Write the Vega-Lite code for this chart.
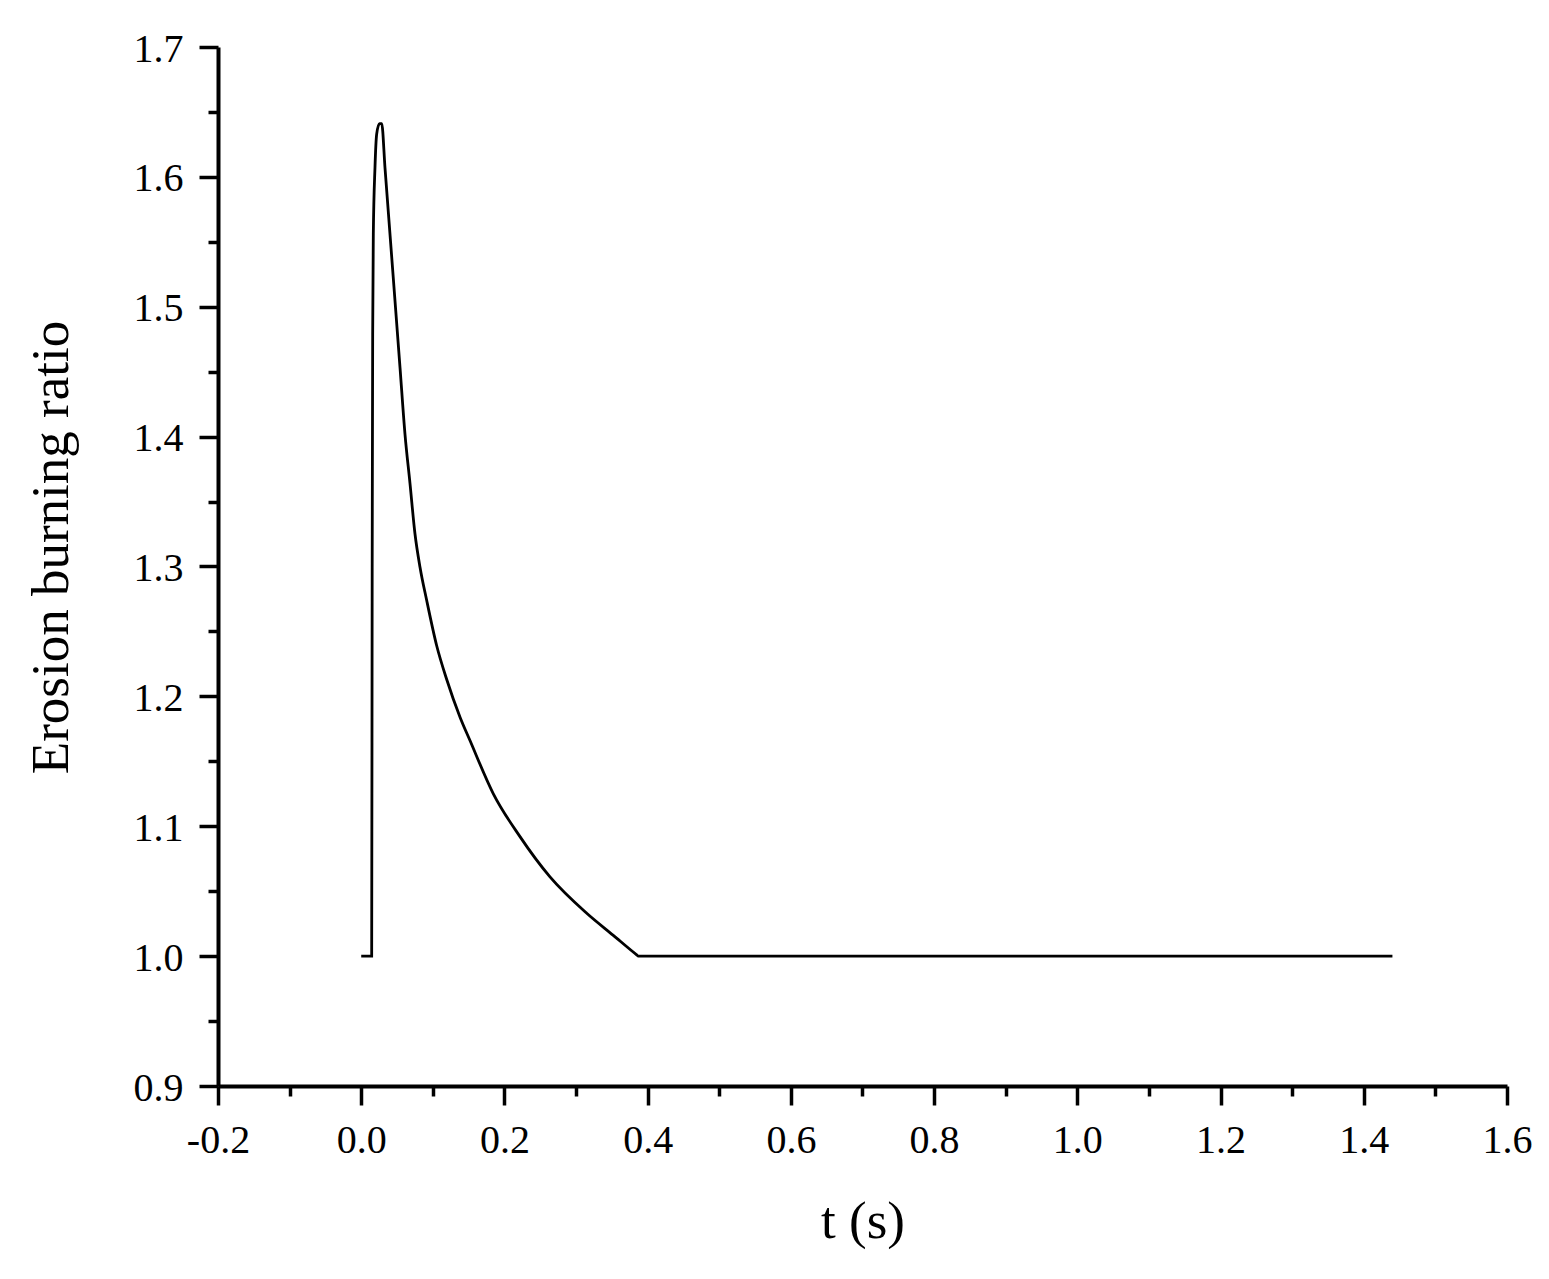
{
  "$schema": "https://vega.github.io/schema/vega-lite/v6.json",
  "width": 1289,
  "height": 1039,
  "autosize": {"type": "none"},
  "padding": {"left": 218, "top": 47, "right": 42, "bottom": 193},
  "background": "white",
  "config": {"view": {"stroke": null}},
  "data": {
    "values": [
      {"t": 0.0, "r": 1.0},
      {"t": 0.0146, "r": 1.0},
      {"t": 0.0153, "r": 1.3},
      {"t": 0.016, "r": 1.479},
      {"t": 0.0169, "r": 1.556},
      {"t": 0.0192, "r": 1.607},
      {"t": 0.0216, "r": 1.633},
      {"t": 0.0255, "r": 1.641},
      {"t": 0.0286, "r": 1.641},
      {"t": 0.0332, "r": 1.607},
      {"t": 0.0542, "r": 1.453},
      {"t": 0.0611, "r": 1.402},
      {"t": 0.0681, "r": 1.364},
      {"t": 0.0751, "r": 1.325},
      {"t": 0.0821, "r": 1.2995},
      {"t": 0.0914, "r": 1.274},
      {"t": 0.1054, "r": 1.239},
      {"t": 0.1194, "r": 1.213},
      {"t": 0.138, "r": 1.184},
      {"t": 0.1519, "r": 1.166},
      {"t": 0.1845, "r": 1.125},
      {"t": 0.2217, "r": 1.092},
      {"t": 0.2636, "r": 1.061},
      {"t": 0.3149, "r": 1.033},
      {"t": 0.352, "r": 1.016},
      {"t": 0.3847, "r": 1.001},
      {"t": 0.387, "r": 1.0},
      {"t": 1.44, "r": 1.0}
    ]
  },
  "mark": {"type": "line", "color": "black", "strokeWidth": 2.8, "interpolate": "monotone"},
  "encoding": {
    "x": {
      "field": "t",
      "type": "quantitative",
      "scale": {"domain": [-0.2, 1.6], "nice": false, "zero": false},
      "axis": {
        "title": "t (s)",
        "values": [-0.2, -0.1, 0.0, 0.1, 0.2, 0.3, 0.4, 0.5, 0.6, 0.7, 0.8, 0.9, 1.0, 1.1, 1.2, 1.3, 1.4, 1.5, 1.6],
        "labelExpr": "abs(round(datum.value*10)) % 2 === 1 ? '' : (datum.value < -0.001 ? '-' : '') + format(abs(datum.value), '.1f')",
        "labelOverlap": false,
        "labelFont": "Liberation Serif",
        "labelFontSize": 40,
        "labelColor": "black",
        "labelBaseline": "alphabetic",
        "labelPadding": 47,
        "labelFlush": false,
        "tickSize": {"condition": {"test": "abs(round(datum.value*10)) % 2 === 1", "value": 10}, "value": 19},
        "tickWidth": 3.5,
        "tickColor": "black",
        "domainColor": "black",
        "domainWidth": 4,
        "grid": false,
        "titleFont": "Liberation Serif",
        "titleFontSize": 53,
        "titleFontWeight": "normal",
        "titleColor": "black",
        "titleBaseline": "alphabetic",
        "titleY": 151
      }
    },
    "y": {
      "field": "r",
      "type": "quantitative",
      "scale": {"domain": [0.9, 1.7], "nice": false, "zero": false},
      "axis": {
        "title": "Erosion burning ratio",
        "values": [0.9, 0.95, 1.0, 1.05, 1.1, 1.15, 1.2, 1.25, 1.3, 1.35, 1.4, 1.45, 1.5, 1.55, 1.6, 1.65, 1.7],
        "labelExpr": "abs(round(datum.value*20)) % 2 === 1 ? '' : format(datum.value, '.1f')",
        "labelOverlap": false,
        "labelFont": "Liberation Serif",
        "labelFontSize": 40,
        "labelColor": "black",
        "labelBaseline": "alphabetic",
        "labelOffset": 14,
        "labelPadding": 16,
        "labelFlush": false,
        "tickSize": {"condition": {"test": "abs(round(datum.value*20)) % 2 === 1", "value": 10}, "value": 19},
        "tickWidth": 3.5,
        "tickColor": "black",
        "domainColor": "black",
        "domainWidth": 4,
        "grid": false,
        "titleFont": "Liberation Serif",
        "titleFontSize": 53,
        "titleFontWeight": "normal",
        "titleColor": "black",
        "titleBaseline": "alphabetic",
        "titleAngle": -90,
        "titleX": -151,
        "titleY": 500
      }
    }
  }
}
